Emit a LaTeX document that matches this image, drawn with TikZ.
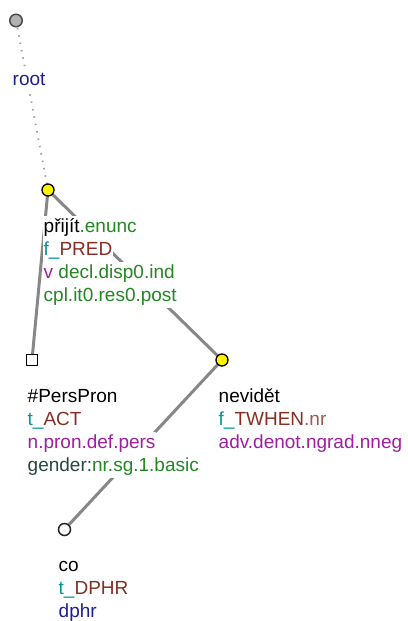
\documentclass[tikz,border=0pt]{standalone}
\usepackage{fontspec}
\setmainfont{Liberation Sans}
\definecolor{cteal}{RGB}{0,150,150}
\definecolor{cbrown}{RGB}{135,45,35}
\definecolor{cpurple}{RGB}{160,30,160}
\definecolor{cgreen}{RGB}{35,135,35}
\definecolor{cslate}{RGB}{40,70,65}
\definecolor{cblue}{RGB}{30,30,150}
\definecolor{cedge}{RGB}{135,135,135}
\begin{document}
\begin{tikzpicture}[x=1pt,y=-1pt,
  lbl/.style={anchor=base west,fill=white,inner xsep=0.5pt,inner ysep=2pt,
    text height=14pt,text depth=5pt,font=\fontsize{19}{23}\selectfont},
  yel/.style={circle,draw=black,line width=1.3pt,fill=yellow,minimum size=12pt,inner sep=0pt},
  wcirc/.style={circle,draw=black!85,line width=1.5pt,fill=white,minimum size=12pt,inner sep=0pt},
  gcirc/.style={circle,draw=black!70,line width=1.5pt,fill=black!30,minimum size=12.5pt,inner sep=0pt},
  wsq/.style={rectangle,draw=black,line width=1.3pt,fill=white,minimum size=11pt,inner sep=0pt},
  edge/.style={draw=cedge,line width=3pt},
  redge/.style={draw=cedge!80,line width=1.8pt,dash pattern=on 1.5pt off 6pt}]
\useasboundingbox (0,0) rectangle (407,621);
% node anchors
\coordinate (r) at (16,20.5);
\coordinate (p) at (48,190);
\coordinate (s) at (32,360);
\coordinate (n) at (222,360);
\coordinate (c) at (64.5,529.5);
% edges
\draw[redge] (r) -- (p);
\draw[edge] (p) -- (s);
\draw[edge] (p) -- (n);
\draw[edge] (n) -- (c);
% labels
\node[lbl] (rl) at (12,85) {\textcolor{cblue}{root}};
\node[lbl] (p1) at (43,232) {přijít\textcolor{cgreen}{.enunc}};
\node[lbl] (p2) at (43,255) {\textcolor{cteal}{f\_}\textcolor{cbrown}{PRED}};
\node[lbl] (p3) at (43,278) {\textcolor{cpurple}{v} \textcolor{cgreen}{decl.disp0.ind}};
\node[lbl] (p4) at (43,301) {\textcolor{cgreen}{cpl.it0.res0.post}};
\node[lbl] (s1) at (27,402) {\#PersPron};
\node[lbl] (s2) at (27,425) {\textcolor{cteal}{t\_}\textcolor{cbrown}{ACT}};
\node[lbl] (s3) at (27,448) {\textcolor{cpurple}{n.pron.def.pers}};
\node[lbl] (s4) at (27,471) {\textcolor{cslate}{gender:}\textcolor{cgreen}{nr.sg.1.basic}};
\node[lbl] (n1) at (218,402) {nevidět};
\node[lbl] (n2) at (218,425) {\textcolor{cteal}{f\_}\textcolor{cbrown}{TWHEN}\textcolor{cbrown!80}{.nr}};
\node[lbl] (n3) at (218,448) {\textcolor{cpurple}{adv.denot.ngrad.nneg}};
\node[lbl] (c1) at (58,571) {co};
\node[lbl] (c2) at (58,594) {\textcolor{cteal}{t\_}\textcolor{cbrown}{DPHR}};
\node[lbl] (c3) at (58,617) {\textcolor{cblue}{dphr}};
% tree nodes
\node[gcirc] (rn) at (r) {};
\node[yel] (pn) at (p) {};
\node[wsq] (sn) at (s) {};
\node[yel] (nn) at (n) {};
\node[wcirc] (cn) at (c) {};
\end{tikzpicture}
\end{document}
